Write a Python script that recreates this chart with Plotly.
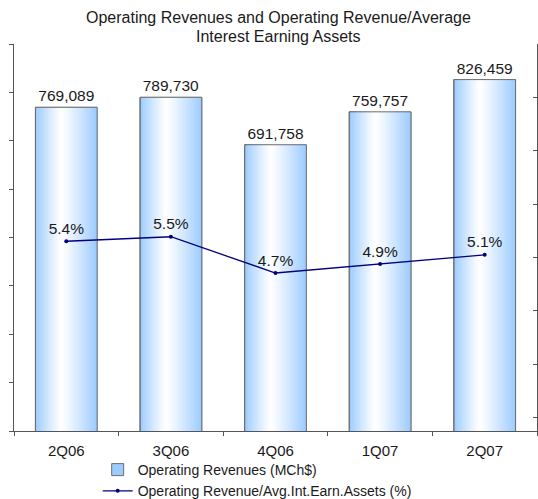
import plotly.graph_objects as go

# ---- data ----
categories = ["2Q06", "3Q06", "4Q06", "1Q07", "2Q07"]
revenues = [769089, 789730, 691758, 759757, 826459]
ratio_pct = [5.4, 5.5, 4.7, 4.9, 5.1]
bar_name = "Operating Revenues (MCh$)"
line_name = "Operating Revenue/Avg.Int.Earn.Assets (%)"
title_lines = ["Operating Revenues and Operating Revenue/Average", "Interest Earning Assets"]

# ---- style ----
FONT = "Liberation Sans, Arial, sans-serif"
TXT = "#1a1a1a"
AX = "#555555"
BW = 0.59
EDGE = (155, 203, 255)
WHITE = (255, 255, 255)
N = 40
CENTER = 0.42
FIG_W, FIG_H = 538, 512
TOP, PLOT_BOTTOM = 44, 431
PLOT_H = PLOT_BOTTOM - TOP


def grad(t):
    if t < CENTER:
        d = (CENTER - t) / CENTER
    else:
        d = (t - CENTER) / (1 - CENTER)
    s = d ** 1.15
    c = [round(WHITE[k] * (1 - s) + EDGE[k] * s) for k in range(3)]
    return "rgb(%d,%d,%d)" % tuple(c)


def paper_y(px):
    return (PLOT_BOTTOM - px) / PLOT_H


fig = go.Figure()

# base bar (legend entry + border)
fig.add_trace(go.Bar(
    x=categories, y=revenues, name=bar_name, width=BW,
    marker=dict(color="rgb(%d,%d,%d)" % EDGE, line=dict(color="#6e6e6e", width=1)),
    hoverinfo="skip", yaxis="y", xaxis="x",
))

# gradient strips layered left to right
w = BW / N
for i in range(1, N):
    fig.add_trace(go.Bar(
        x=categories, y=revenues, width=BW - i * w, offset=-BW / 2 + i * w,
        marker=dict(color=grad((i + 0.5) / N), line=dict(width=0)),
        showlegend=False, hoverinfo="skip", yaxis="y", xaxis="x",
    ))

# outline + value labels
fig.add_trace(go.Bar(
    x=categories, y=revenues, width=BW,
    marker=dict(color="rgba(0,0,0,0)", line=dict(color="#6e6e6e", width=1)),
    texttemplate="%{y:,}", textposition="outside", cliponaxis=False,
    textfont=dict(family=FONT, size=15.5, color=TXT),
    showlegend=False, hoverinfo="skip", yaxis="y", xaxis="x",
))

# ratio line
fig.add_trace(go.Scatter(
    x=categories, y=ratio_pct, name=line_name, yaxis="y2", xaxis="x",
    mode="lines+markers+text",
    line=dict(color="#000080", width=1.3),
    marker=dict(color="#000080", size=4, symbol="circle"),
    texttemplate="%{y:.1f}%", textposition="top center",
    textfont=dict(family=FONT, size=15.5, color=TXT),
    cliponaxis=False,
))

left_ticks = list(range(100000, 900001, 100000))
boundaries = [i - 0.5 for i in range(len(categories) + 1)]

annotations = [
    dict(text=title_lines[0], y=paper_y(18)),
    dict(text=title_lines[1], y=paper_y(37)),
]
for a in annotations:
    a.update(x=(278 - 14) / (537 - 14), xref="paper", xanchor="center", yref="paper",
             yanchor="middle", showarrow=False,
             font=dict(family=FONT, size=16, color=TXT))

fig.update_layout(
    width=FIG_W, height=FIG_H,
    margin=dict(l=14, r=1, t=TOP, b=FIG_H - PLOT_BOTTOM),
    paper_bgcolor="white", plot_bgcolor="white",
    barmode="overlay",
    font=dict(family=FONT, size=15.5, color=TXT),
    annotations=annotations,
    xaxis=dict(type="category", showline=True, linecolor=AX, linewidth=1,
               ticks="outside", ticklen=4, tickcolor=AX, tickson="boundaries",
               showgrid=False, zeroline=False, ticklabelstandoff=6,
               tickfont=dict(family=FONT, size=15, color=TXT)),
    xaxis2=dict(overlaying="x", anchor="y", range=[-0.5, len(categories) - 0.5],
                tickvals=boundaries, ticks="inside", ticklen=4, tickcolor=AX,
                showticklabels=False, showline=False, showgrid=False, zeroline=False,
                side="bottom"),
    yaxis=dict(range=[100000, 900000], tickvals=left_ticks, showticklabels=False,
               ticks="outside", ticklen=4, tickcolor=AX, showline=True,
               linecolor=AX, linewidth=1, showgrid=False, zeroline=False),
    yaxis3=dict(overlaying="y", anchor="x", range=[100000, 900000], tickvals=left_ticks,
                showticklabels=False, ticks="inside", ticklen=4, tickcolor=AX,
                showline=False, showgrid=False, zeroline=False, side="left"),
    yaxis2=dict(overlaying="y", side="right", anchor="x", range=[1.215, 9.751],
                tick0=1.515, dtick=1.1766, showticklabels=False,
                ticks="inside", ticklen=4, tickcolor=AX, showline=True,
                linecolor=AX, linewidth=1, showgrid=False, zeroline=False),
    legend=dict(x=0.16, y=paper_y(454), xanchor="left", yanchor="top",
                bgcolor="rgba(0,0,0,0)", font=dict(family=FONT, size=14, color=TXT),
                tracegroupgap=0),
    showlegend=True,
)

fig.write_html(
    "out.html",
    config={"displayModeBar": False},
    post_script="document.body.style.margin='0';document.body.style.overflow='hidden';"
                "document.documentElement.style.overflow='hidden';",
)
